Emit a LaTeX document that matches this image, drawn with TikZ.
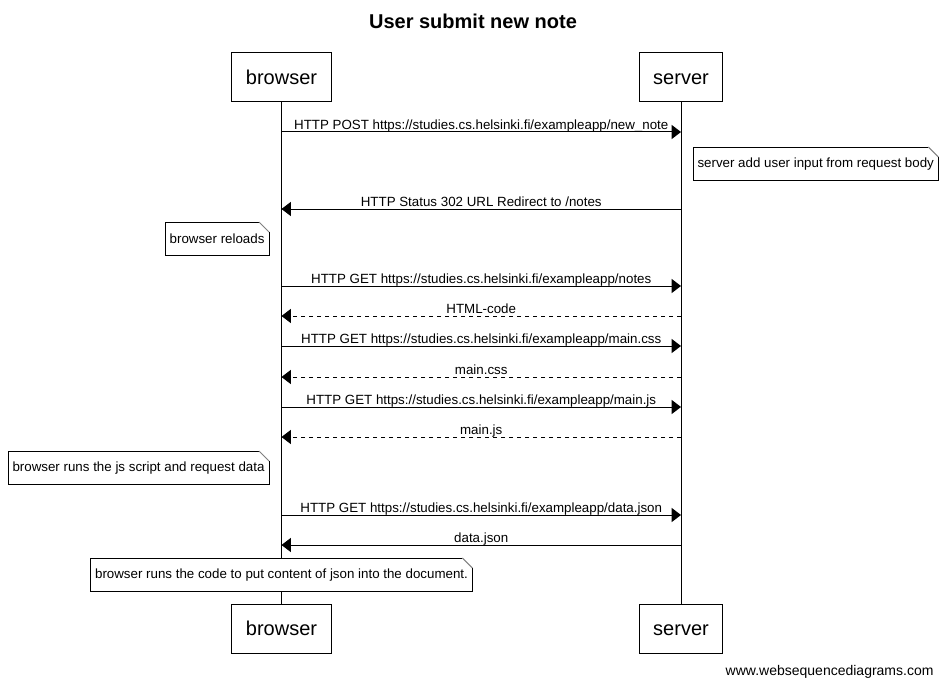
\documentclass[tikz,border=0pt]{standalone}
\usepackage{fontspec}
\setmainfont{Liberation Sans}
\usetikzlibrary{arrows.meta}

\newcommand\dogear[1]{%
	\draw ([xshift=-7.5pt]#1.north east) -- (#1.north west) -- (#1.south west)
		-- (#1.south east) -- ([yshift=-7.5pt]#1.north east);
	\draw[gray] ([xshift=-7.5pt]#1.north east) -- ([yshift=-7.5pt]#1.north east);
}

\begin{document}
\begin{tikzpicture}[
		x=0.75pt, y=-0.75pt, line width=0.75pt,
		actor/.style={draw, fill=white, inner xsep=10.5pt, minimum height=36.75pt,
			text height=13pt, text depth=2pt, font=\fontsize{15}{18}\selectfont},
		note/.style={fill=white, inner xsep=3pt, minimum height=24.5pt,
			font=\fontsize{10}{12}\selectfont},
		msg/.style={-{Triangle[length=7pt,width=10.5pt]}},
		reply/.style={msg, dash pattern=on 3pt off 3pt},
		lbl/.style={above, inner sep=0.5pt, text height=7.5pt, text depth=1pt,
			font=\fontsize{10}{12}\selectfont}
	]
	\useasboundingbox (0,0) rectangle (944,688);
	\node[font=\fontsize{15}{18}\selectfont\bfseries] (title) at (473,21) {User submit new note};
	\node[actor] (browser) at (281.5,77.5) {browser};
	\node[actor] (server) at (681,77.5) {server};
	\node[actor] (browser2) at (281.5,628.5) {browser};
	\node[actor] (server2) at (681,628.5) {server};
	\draw (browser) -- (browser2);
	\draw (server) -- (server2);
	% message ends on the lifelines
	\foreach \n/\y in {1/132,2/209,3/286,4/316,5/346,6/377,7/407,8/437,9/515,10/545}{
		\coordinate (b\n) at (281.5,\y);
		\coordinate (s\n) at (681,\y);
	}
	\draw[msg] (b1) -- (s1) node[lbl,midway] {HTTP POST https://studies.cs.helsinki.fi/exampleapp/new\_note};
	\node[note, anchor=north west] (addinput) at (693,147) {server add user input from request body};
	\dogear{addinput}
	\draw[msg] (s2) -- (b2) node[lbl,midway] {HTTP Status 302 URL Redirect to /notes};
	\node[note, anchor=north east] (reload) at (269,222) {browser reloads};
	\dogear{reload}
	\draw[msg] (b3) -- (s3) node[lbl,midway] {HTTP GET https://studies.cs.helsinki.fi/exampleapp/notes};
	\draw[reply] (s4) -- (b4) node[lbl,midway] {HTML-code};
	\draw[msg] (b5) -- (s5) node[lbl,midway] {HTTP GET https://studies.cs.helsinki.fi/exampleapp/main.css};
	\draw[reply] (s6) -- (b6) node[lbl,midway] {main.css};
	\draw[msg] (b7) -- (s7) node[lbl,midway] {HTTP GET https://studies.cs.helsinki.fi/exampleapp/main.js};
	\draw[reply] (s8) -- (b8) node[lbl,midway] {main.js};
	\node[note, anchor=north east] (runjs) at (269,451) {browser runs the js script and request data};
	\dogear{runjs}
	\draw[msg] (b9) -- (s9) node[lbl,midway] {HTTP GET https://studies.cs.helsinki.fi/exampleapp/data.json};
	\draw[msg] (s10) -- (b10) node[lbl,midway] {data.json};
	\node[note, anchor=north] (render) at (281.5,558) {browser runs the code to put content of json into the document.};
	\dogear{render}
	\node[anchor=east, inner sep=0pt, font=\fontsize{10.5}{12}\selectfont] (credit) at (934,672) {www.websequencediagrams.com};
\end{tikzpicture}
\end{document}
